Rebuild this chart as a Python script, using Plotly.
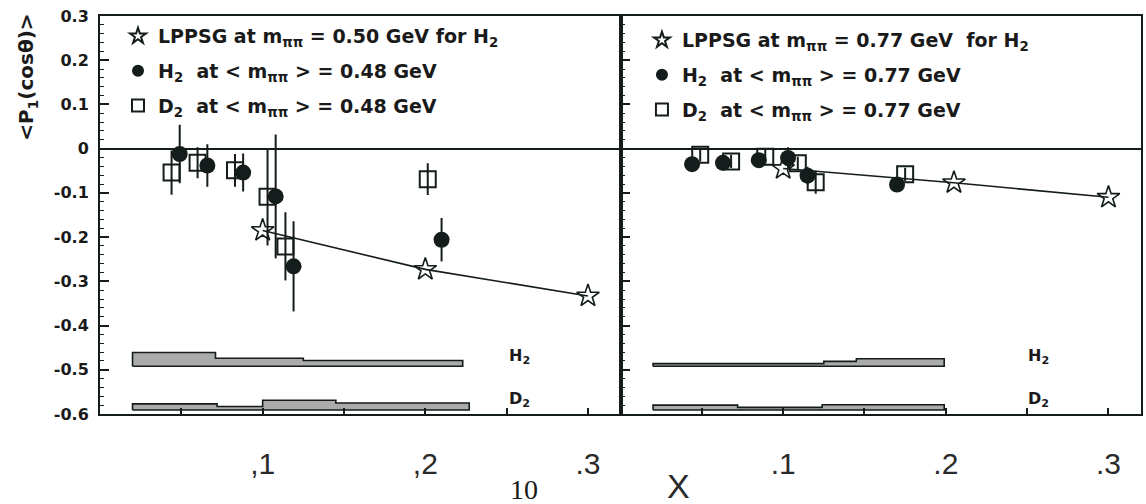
import plotly.graph_objects as go
from plotly.subplots import make_subplots

# ---------------- data ----------------
# left panel (m_pipi ~ 0.48-0.50 GeV)
lppsg_x_L = [0.1, 0.2, 0.3]
lppsg_y_L = [-0.185, -0.273, -0.333]
h2_x_L = [0.049, 0.066, 0.088, 0.108, 0.119, 0.210]
h2_y_L = [-0.012, -0.038, -0.054, -0.108, -0.266, -0.206]
h2_e_L = [0.066, 0.048, 0.043, 0.140, 0.102, 0.049]
d2_x_L = [0.044, 0.060, 0.083, 0.103, 0.114, 0.2015]
d2_y_L = [-0.054, -0.032, -0.049, -0.109, -0.221, -0.069]
d2_e_L = [0.050, 0.035, 0.037, 0.110, 0.077, 0.036]

# right panel (m_pipi ~ 0.77 GeV)
lppsg_x_R = [0.1, 0.205, 0.3]
lppsg_y_R = [-0.045, -0.077, -0.110]
h2_x_R = [0.044, 0.063, 0.085, 0.103, 0.115, 0.170]
h2_y_R = [-0.035, -0.032, -0.026, -0.021, -0.061, -0.081]
h2_e_R = [0.015, 0.015, 0.015, 0.024, 0.020, 0.015]
d2_x_R = [0.049, 0.068, 0.089, 0.109, 0.120, 0.175]
d2_y_R = [-0.014, -0.029, -0.018, -0.033, -0.076, -0.058]
d2_e_R = [0.015, 0.015, 0.015, 0.015, 0.026, 0.015]

# systematic-error bands (bin edges, band tops, band base)
band_h2_edges_L = [0.020, 0.071, 0.125, 0.223]
band_h2_tops_L = [-0.461, -0.474, -0.479]
band_h2_base_L = -0.492
band_d2_edges_L = [0.020, 0.072, 0.100, 0.145, 0.227]
band_d2_tops_L = [-0.577, -0.583, -0.569, -0.575]
band_d2_base_L = -0.591

band_h2_edges_R = [0.020, 0.125, 0.145, 0.199]
band_h2_tops_R = [-0.486, -0.481, -0.475]
band_h2_base_R = -0.492
band_d2_edges_R = [0.020, 0.072, 0.124, 0.199]
band_d2_tops_R = [-0.580, -0.585, -0.579]
band_d2_base_R = -0.591

ytick_vals = [0.3, 0.2, 0.1, 0, -0.1, -0.2, -0.3, -0.4, -0.5, -0.6]
ytick_text = ["0.3", "0.2", "0.1", "0", "-0.1", "-0.2", "-0.3", "-0.4", "-0.5", "-0.6"]
xtick_vals = [0.1, 0.2, 0.3]
xtick_text_L = [",1", ",2", ".3"]
xtick_text_R = [".1", ".2", ".3"]

INK = "#141c1c"
TXT = "#1a1a1a"
BAND = "#ababab"
BOLDFONT = "DejaVu Sans"


def band_polygon(edges, tops, base):
    xs = [edges[0]]
    ys = [base]
    for i, t in enumerate(tops):
        xs += [edges[i], edges[i + 1]]
        ys += [t, t]
    xs += [edges[-1], edges[0]]
    ys += [base, base]
    return xs, ys


fig = make_subplots(rows=1, cols=2, horizontal_spacing=0)

panels = [
    (1, lppsg_x_L, lppsg_y_L, h2_x_L, h2_y_L, h2_e_L, d2_x_L, d2_y_L, d2_e_L,
     (band_h2_edges_L, band_h2_tops_L, band_h2_base_L),
     (band_d2_edges_L, band_d2_tops_L, band_d2_base_L), "0.50", "0.48", "legend"),
    (2, lppsg_x_R, lppsg_y_R, h2_x_R, h2_y_R, h2_e_R, d2_x_R, d2_y_R, d2_e_R,
     (band_h2_edges_R, band_h2_tops_R, band_h2_base_R),
     (band_d2_edges_R, band_d2_tops_R, band_d2_base_R), "0.77", "0.77", "legend2"),
]

for col, lx, ly, hx, hy, he, dx, dy, de, bh, bd, mth, mexp, leg in panels:
    for b in (bh, bd):
        bx, by = band_polygon(*b)
        fig.add_trace(go.Scatter(x=bx, y=by, mode="lines", fill="toself",
                                 fillcolor=BAND, line=dict(color=INK, width=1.6),
                                 showlegend=False, hoverinfo="skip"), row=1, col=col)
    # theory curve
    fig.add_trace(go.Scatter(x=lx, y=ly, mode="lines", line=dict(color=INK, width=1.6),
                             showlegend=False), row=1, col=col)
    sp = "  " if col == 2 else " "
    fig.add_trace(go.Scatter(
        x=lx, y=ly, mode="markers",
        marker=dict(symbol="star-open", size=17, color=INK, line=dict(color=INK, width=1.6)),
        name=f"LPPSG at m<sub>ππ</sub> = {mth} GeV{sp}for H<sub>2</sub>",
        legend=leg, legendgroup=f"a{col}", legendrank=1), row=1, col=col)
    fig.add_trace(go.Scatter(
        x=dx, y=dy, mode="markers",
        error_y=dict(type="data", array=de, color=INK, thickness=2, width=0),
        marker=dict(symbol="square-open", size=16, color=INK, line=dict(color=INK, width=2)),
        name=f"D<sub>2</sub>  at &lt; m<sub>ππ</sub> &gt; = {mexp} GeV",
        legend=leg, legendgroup=f"c{col}", legendrank=3), row=1, col=col)
    fig.add_trace(go.Scatter(
        x=hx, y=hy, mode="markers",
        error_y=dict(type="data", array=he, color=INK, thickness=2, width=0),
        marker=dict(symbol="circle", size=16, color=INK, line=dict(color=INK, width=0)),
        name=f"H<sub>2</sub>  at &lt; m<sub>ππ</sub> &gt; = {mexp} GeV",
        legend=leg, legendgroup=f"b{col}", legendrank=2), row=1, col=col)

axis_common = dict(range=[0, 0.32], showline=True, linecolor=INK, linewidth=2, mirror=True,
                   ticks="inside", ticklen=6, tickwidth=1.5, tickcolor=INK,
                   tickvals=xtick_vals, showgrid=False, zeroline=False,
                   ticklabelstandoff=22,
                   tickfont=dict(family="Liberation Sans Narrow, Liberation Sans", size=30, color="#2a2a2a"),
                   minor=dict(dtick=0.05, tick0=0, ticks="inside", ticklen=6, tickwidth=1.5,
                              tickcolor=INK, showgrid=False))
fig.update_xaxes(**axis_common, ticktext=xtick_text_L, row=1, col=1)
fig.update_xaxes(**axis_common, ticktext=xtick_text_R, row=1, col=2)

yaxis_common = dict(range=[-0.6, 0.3], showline=True, linecolor=INK, linewidth=2, mirror=True,
                    ticks="inside", ticklen=9, tickwidth=1.5, tickcolor=INK,
                    tickvals=ytick_vals, ticktext=ytick_text, showgrid=False,
                    zeroline=True, zerolinecolor=INK, zerolinewidth=1.6,
                    ticklabelstandoff=6,
                    tickfont=dict(family=BOLDFONT, size=16, color=TXT, weight="bold"),
                    minor=dict(dtick=0.02, tick0=0, ticks="inside", ticklen=4, tickwidth=1.2,
                               tickcolor=INK, showgrid=False))
fig.update_yaxes(**yaxis_common, row=1, col=1)
fig.update_yaxes(**yaxis_common, showticklabels=False, row=1, col=2)

legend_common = dict(bgcolor="rgba(0,0,0,0)", borderwidth=0, tracegroupgap=7,
                     itemsizing="constant", itemwidth=30,
                     font=dict(family=BOLDFONT, size=19, color=TXT, weight="bold"),
                     xanchor="left", yanchor="top")

lab = dict(family=BOLDFONT, size=16, color=TXT, weight="bold")

fig.update_layout(
    width=1146, height=504,
    margin=dict(l=100, r=3, t=16, b=90),
    paper_bgcolor="white", plot_bgcolor="white",
    legend=dict(**legend_common, x=0.0173, y=0.997),
    legend2=dict(**legend_common, x=0.5206, y=0.987),
    annotations=[
        dict(text="&lt;P<sub>1</sub>(cosθ)&gt;", textangle=-90, xref="paper", yref="paper",
             x=-0.07, y=0.845, xanchor="center", yanchor="middle", showarrow=False,
             font=dict(family=BOLDFONT, size=20, color=TXT, weight="bold")),
        dict(text="H<sub>2</sub>", xref="x", yref="y", x=0.258, y=-0.47, showarrow=False, font=lab),
        dict(text="D<sub>2</sub>", xref="x", yref="y", x=0.258, y=-0.567, showarrow=False, font=lab),
        dict(text="H<sub>2</sub>", xref="x2", yref="y2", x=0.257, y=-0.47, showarrow=False, font=lab),
        dict(text="D<sub>2</sub>", xref="x2", yref="y2", x=0.257, y=-0.567, showarrow=False, font=lab),
        dict(text="X", xref="paper", yref="paper", x=0.556, y=-0.18, xanchor="center",
             yanchor="middle", showarrow=False,
             font=dict(family="Liberation Sans Narrow, Liberation Sans", size=34, color="#2a2a2a")),
        dict(text="10", xref="paper", yref="paper", x=0.4075, y=-0.19, xanchor="center",
             yanchor="middle", showarrow=False,
             font=dict(family="Liberation Serif", size=28, color=TXT)),
    ],
)

fig.write_html("out.html")
